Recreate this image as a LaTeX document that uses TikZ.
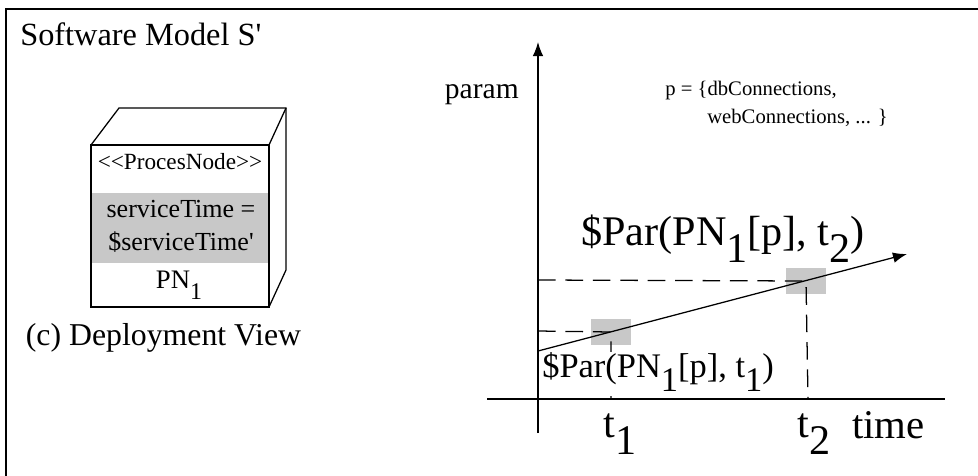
\documentclass[tikz,border=0pt]{standalone}
\usepackage{fontspec}
\setmainfont{Liberation Serif}[Ligatures=TeXOff]
\usetikzlibrary{arrows.meta,positioning}
\definecolor{MarkGray}{RGB}{200,200,200}
\newcommand{\lowsub}[1]{\raisebox{-0.42em}{#1}}

\begin{document}
\begin{tikzpicture}[x=0.025cm,y=-0.025cm,>={Latex[length=10pt,width=7.5pt]},
    lbl/.style={inner sep=0pt,anchor=base west},
    guide/.style={dashed,dash pattern=on 12.5pt off 7pt,line width=0.9pt},
    markbox/.style={fill=MarkGray,minimum width=0.98cm,minimum height=0.66cm,inner sep=0pt}]
      \useasboundingbox (0,0) rectangle (978,475);
      \clip (0,0) rectangle (978,475);
      \draw[line width=1.4pt] (6,9) rectangle (1000,500);
      \node[lbl,font=\fontsize{23}{27}\selectfont] (title) at (20,45) {Software Model S'};
      % node box
      \fill[MarkGray] (91,193) rectangle (269,263);
      \draw[line width=0.9pt] (91,145) rectangle (269,307);
      \draw[line width=0.9pt] (91,145) -- (119,108) -- (286,108) -- (286,270) -- (269,307);
      \draw[line width=0.9pt] (269,145) -- (286,108);
      \node[font=\fontsize{16.5}{20}\selectfont,inner sep=0pt] (stereo) at (180,162) {<{}<ProcesNode>{}>};
      \node[font=\fontsize{18.5}{22.8}\selectfont,inner sep=0pt,align=center,anchor=base] (svc) at (181,250) {serviceTime =\\\$serviceTime'};
      \node[font=\fontsize{19}{22}\selectfont,inner sep=0pt,anchor=base] (pn) at (179,288) {PN\lowsub{\fontsize{17}{20}\selectfont 1}};
      \node[font=\fontsize{22.6}{27}\selectfont,inner sep=0pt,anchor=base] (view) at (163.5,345) {(c) Deployment View};
      % graph
      \coordinate (ybot) at (538,433);
      \coordinate (ytop) at (538,42);
      \coordinate (xl) at (487,399);
      \coordinate (xr) at (945,399);
      \coordinate (s) at (538,351);
      \coordinate (e) at (907,254);
      \coordinate (v1) at (538,331);
      \coordinate (v2) at (538,280);
      \coordinate (t1) at (611,399);
      \coordinate (t2) at (808,399);
      \node[markbox] (m1) at (611,332) {};
      \node[markbox] (m2) at (806,281) {};
      \draw[guide] (v2) -- (m2.center) -- (t2);
      \draw[guide] (v1) -- (m1.center) -- (t1);
      \draw[line width=0.9pt] (xl) -- (xr);
      \draw[->,line width=0.9pt] (ybot) -- (ytop);
      \draw[->,line width=0.9pt] (s) -- (e);
      \node[lbl,fill=white,font=\fontsize{24.5}{28}\selectfont] (par1) at (542,377) {\$Par(PN\lowsub{1}[p], t\lowsub{1})};
      \node[lbl,anchor=base east,font=\fontsize{30}{34}\selectfont] (par2) at (865,245) {\$Par(PN\lowsub{1}[p], t\lowsub{2})};
      \node[lbl,anchor=base east,font=\fontsize{21}{25}\selectfont] (param) at (519,98) {param};
      \node[lbl,font=\fontsize{14.7}{20}\selectfont] (set1) at (665,95) {p = \{dbConnections,};
      \node[lbl,font=\fontsize{14.7}{20}\selectfont] (set2) at (707,123) {webConnections, ... \}};
      \node[lbl,font=\fontsize{30}{34}\selectfont] (lt1) at (603,437) {t\lowsub{1}};
      \node[lbl,font=\fontsize{30}{34}\selectfont] (lt2) at (797,437) {t\lowsub{2}};
      \node[lbl,font=\fontsize{29}{32}\selectfont] (time) at (852,438) {time};
\end{tikzpicture}
\end{document}
